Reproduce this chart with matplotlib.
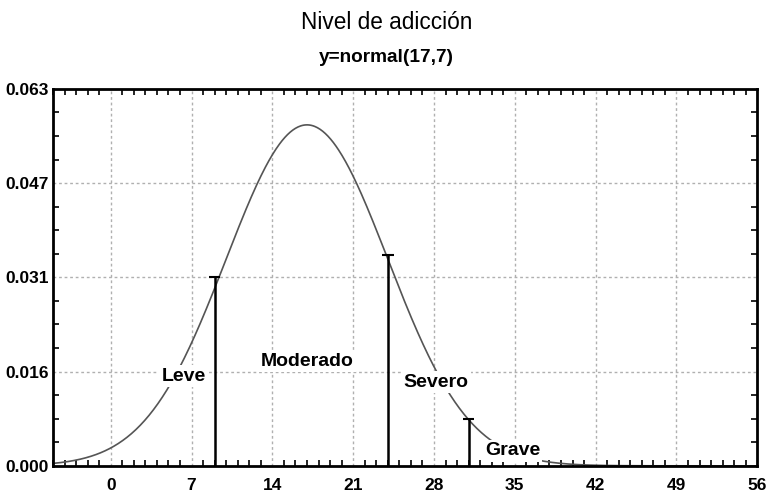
import numpy as np
import matplotlib.pyplot as plt
from matplotlib.ticker import MultipleLocator, FixedLocator

plt.rcParams['font.family'] = ['Liberation Sans', 'DejaVu Sans']

# parámetros de la normal
media = 17
desv = 7

# cortes entre niveles y altura de cada marca
cortes = [9, 24, 31]
alturas = [0.0315, 0.0353, 0.0079]

# etiquetas de cada nivel (x, y del texto)
niveles = ['Leve', 'Moderado', 'Severo', 'Grave']
pos_x = [6.3, 17.0, 28.2, 34.8]
pos_y = [0.0150, 0.0175, 0.0140, 0.0025]

xticks = [0, 7, 14, 21, 28, 35, 42, 49, 56]
yticks = [0.0, 0.01575, 0.0315, 0.04725, 0.063]
ylabels = ['0.000', '0.016', '0.031', '0.047', '0.063']

x = np.linspace(-5, 56, 800)
y = np.exp(-0.5 * ((x - media) / desv) ** 2) / (desv * np.sqrt(2 * np.pi))

fig = plt.figure(figsize=(7.68, 4.94), dpi=100)
ax = fig.add_axes([0.069, 0.057, 0.917, 0.763])

ax.plot(x, y, color='#555555', lw=1.2, zorder=2)

for c, h in zip(cortes, alturas):
    ax.vlines(c, 0, h, color='black', lw=1.8, zorder=3)
    ax.hlines(h, c - 0.5, c + 0.5, color='black', lw=1.5, zorder=3)

for t, tx, ty in zip(niveles, pos_x, pos_y):
    ax.text(tx, ty, t, ha='center', va='center', fontsize=14, fontweight='bold',
            zorder=4, bbox=dict(facecolor='white', edgecolor='none', pad=1.5))

ax.set_xlim(-5, 56)
ax.set_ylim(0, 0.063)
ax.xaxis.set_major_locator(FixedLocator(xticks))
ax.xaxis.set_minor_locator(MultipleLocator(1))
ax.yaxis.set_major_locator(FixedLocator(yticks))
ax.yaxis.set_minor_locator(MultipleLocator(0.063 / 16))
ax.set_xticklabels([str(v) for v in xticks])
ax.set_yticklabels(ylabels)

ax.tick_params(which='both', direction='in', top=True, right=True, color='black')
ax.tick_params(which='major', length=0, labelsize=12.5)
ax.tick_params(axis='x', which='major', pad=9)
ax.tick_params(axis='y', which='major', pad=3)
ax.tick_params(which='minor', length=4, width=1.2)
for lab in ax.get_xticklabels() + ax.get_yticklabels():
    lab.set_fontweight('bold')

ax.grid(True, which='major', color='#b0b0b0', ls=(0, (2, 2)), lw=1)
for s in ax.spines.values():
    s.set_linewidth(2)

fig.text(0.503, 0.955, 'Nivel de adicción', ha='center', va='center', fontsize=16.3)
fig.text(0.503, 0.884, 'y=normal(17,7)', ha='center', va='center', fontsize=13.7,
         fontweight='bold')

fig.savefig('out.png', dpi=100)
